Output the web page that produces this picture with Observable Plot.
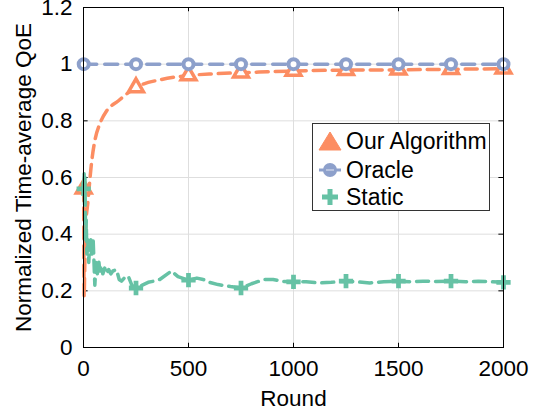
<!DOCTYPE html>
<html>
<head>
<meta charset="utf-8">
<script src="https://cdn.jsdelivr.net/npm/d3@7"></script>
<script src="https://cdn.jsdelivr.net/npm/@observablehq/plot@0.6"></script>
<style>
  html, body { margin: 0; padding: 0; background: white; }
  #wrap { position: relative; width: 536px; height: 412px; font-family: "Liberation Sans", Arial, sans-serif; }
  #legend { position: absolute; left: 312px; top: 123px; width: 176px; height: 86px; border: 1px solid #333; background: white; }
  .row { position: absolute; left: 0; height: 28px; display: flex; align-items: center; font-size: 23px; color: black; }
  .row svg { margin-left: 4px; margin-right: 3px; }
</style>
</head>
<body>
<div id="wrap"></div>
<script>
// ---- Data ----
const xTicks = [0, 500, 1000, 1500, 2000];
const yTicks = [0, 0.2, 0.4, 0.6, 0.8, 1, 1.2];
const seriesNames = ["Our Algorithm", "Oracle", "Static"];
const colors = ["#fc8d62", "#8da0cb", "#66c2a5"];

const ourRounds = [1, 3, 6, 11, 22, 30, 38, 54, 78, 110, 165, 250, 371, 500, 625, 750, 875, 1000, 1250, 1500, 1750, 2000];
const ourValues = [0.56, 0.18, 0.29, 0.43, 0.52, 0.59, 0.65, 0.73, 0.79, 0.835, 0.87, 0.918, 0.946, 0.96, 0.966, 0.97, 0.973, 0.976, 0.979, 0.98, 0.982, 0.984];

const oracleRounds = [1, 2000];
const oracleValues = [1, 1];

const staticRounds = [1, 3, 5, 7, 9, 11, 13, 16, 20, 25, 30, 35, 40, 46, 54, 60, 66, 72, 78, 85, 92, 101, 110, 120, 130, 140, 157, 170, 181, 200, 213, 230, 252, 280, 308, 340, 363, 400, 419, 450, 498, 540, 570, 600, 641, 700, 752, 800, 860, 903, 950, 998, 1060, 1125, 1180, 1244, 1300, 1363, 1430, 1498, 1560, 1617, 1680, 1750, 1820, 1880, 1940, 2000];
const staticValues = [0.56, 0.62, 0.5, 0.6, 0.45, 0.38, 0.45, 0.33, 0.38, 0.3, 0.37, 0.38, 0.33, 0.38, 0.22, 0.3, 0.26, 0.31, 0.27, 0.29, 0.26, 0.28, 0.26, 0.275, 0.26, 0.27, 0.275, 0.24, 0.234, 0.25, 0.252, 0.22, 0.21, 0.22, 0.23, 0.235, 0.24, 0.26, 0.27, 0.25, 0.238, 0.245, 0.24, 0.23, 0.222, 0.215, 0.21, 0.225, 0.24, 0.24, 0.233, 0.232, 0.232, 0.228, 0.23, 0.234, 0.232, 0.228, 0.232, 0.234, 0.232, 0.234, 0.233, 0.234, 0.232, 0.234, 0.232, 0.23];

const markerRounds = [1, 250, 500, 750, 1000, 1250, 1500, 1750, 2000];
const ourMarkerValues = [0.56, 0.918, 0.96, 0.97, 0.976, 0.979, 0.98, 0.982, 0.984];
const oracleMarkerValues = [1, 1, 1, 1, 1, 1, 1, 1, 1];
const staticMarkerValues = [0.56, 0.21, 0.238, 0.21, 0.232, 0.234, 0.234, 0.234, 0.23];

// ---- Build tables ----
const zip = (xs, ys) => xs.map((x, i) => ({x, y: ys[i]}));
const our = zip(ourRounds, ourValues);
const oracle = zip(oracleRounds, oracleValues);
const stat = zip(staticRounds, staticValues);
const ourM = zip(markerRounds, ourMarkerValues);
const oracleM = zip(markerRounds, oracleMarkerValues);
const statM = zip(markerRounds, staticMarkerValues);

const dash = "12,7";
const font = "Liberation Sans, Arial, sans-serif";

const chart = Plot.plot({
  width: 536,
  height: 412,
  marginLeft: 83,
  marginRight: 33,
  marginTop: 7,
  marginBottom: 65,
  style: {fontFamily: font, fontSize: "22.5px", background: "white", color: "black", overflow: "visible"},
  x: {domain: [0, 2000]},
  y: {domain: [0, 1.2]},
  marks: [
    Plot.gridX(xTicks, {stroke: "#dedede", strokeOpacity: 1, strokeWidth: 1}),
    Plot.gridY(yTicks, {stroke: "#dedede", strokeOpacity: 1, strokeWidth: 1}),
    // inward ticks
    Plot.ruleY(yTicks, {x1: 0, x2: 22, stroke: "black"}),
    Plot.ruleY(yTicks, {x1: 1978, x2: 2000, stroke: "black"}),
    Plot.ruleX(xTicks, {y1: 0, y2: 0.015, stroke: "black"}),
    Plot.ruleX(xTicks, {y1: 1.185, y2: 1.2, stroke: "black"}),
    // Our Algorithm
    Plot.line(our, {x: "x", y: "y", stroke: colors[0], strokeWidth: 3.5, strokeDasharray: dash, curve: "monotone-x"}),
    Plot.dot(ourM, {x: "x", y: "y", symbol: "triangle", r: 5.5, fill: "white", stroke: colors[0], strokeWidth: 3.5}),
    // Oracle
    Plot.line(oracle, {x: "x", y: "y", stroke: colors[1], strokeWidth: 3.5, strokeDasharray: "13,8"}),
    Plot.dot(oracleM, {x: "x", y: "y", symbol: "circle", r: 5, fill: "white", stroke: colors[1], strokeWidth: 4}),
    // Static
    Plot.line(stat, {x: "x", y: "y", stroke: colors[2], strokeWidth: 3.5, strokeDasharray: dash}),
    Plot.dot(statM, {x: "x", y: "y", symbol: "cross", r: 6, fill: colors[2], stroke: "none"}),
    Plot.frame({stroke: "black", strokeWidth: 1}),
    Plot.axisX(xTicks, {tickSize: 0, tickPadding: 13, fontSize: 22.5, tickFormat: d => String(d), label: "Round", labelAnchor: "center", labelArrow: "none", labelOffset: 58}),
    Plot.axisY(yTicks, {tickSize: 0, tickPadding: 11, fontSize: 22.5, tickFormat: d => String(+d.toFixed(1)), label: "Normalized Time-average QoE", labelAnchor: "center", labelArrow: "none", labelOffset: 68})
  ]
});

const wrap = document.getElementById("wrap");
wrap.appendChild(chart);

// ---- Legend ----
const legend = document.createElement("div");
legend.id = "legend";
const rowTops = [3, 32, 59];
const sym = [
  `<svg width="26" height="24"><path d="M13,3 L24,21 L2,21 Z" fill="${colors[0]}" stroke="${colors[0]}" stroke-width="1"/></svg>`,
  `<svg width="26" height="24"><line x1="2" y1="12" x2="24" y2="12" stroke="${colors[1]}" stroke-width="3"/><circle cx="13" cy="12" r="7" fill="${colors[1]}"/><line x1="9" y1="12" x2="17" y2="12" stroke="#c9d1e6" stroke-width="1.5"/></svg>`,
  `<svg width="26" height="24"><path d="M10.5,4 h5 v5.5 h5.5 v5 h-5.5 v5.5 h-5 v-5.5 h-5.5 v-5 h5.5 Z" fill="${colors[2]}"/></svg>`
];
seriesNames.forEach((name, i) => {
  const row = document.createElement("div");
  row.className = "row";
  row.style.top = rowTops[i] + "px";
  row.innerHTML = sym[i] + `<span>${name}</span>`;
  legend.appendChild(row);
});
wrap.appendChild(legend);
</script>
</body>
</html>
